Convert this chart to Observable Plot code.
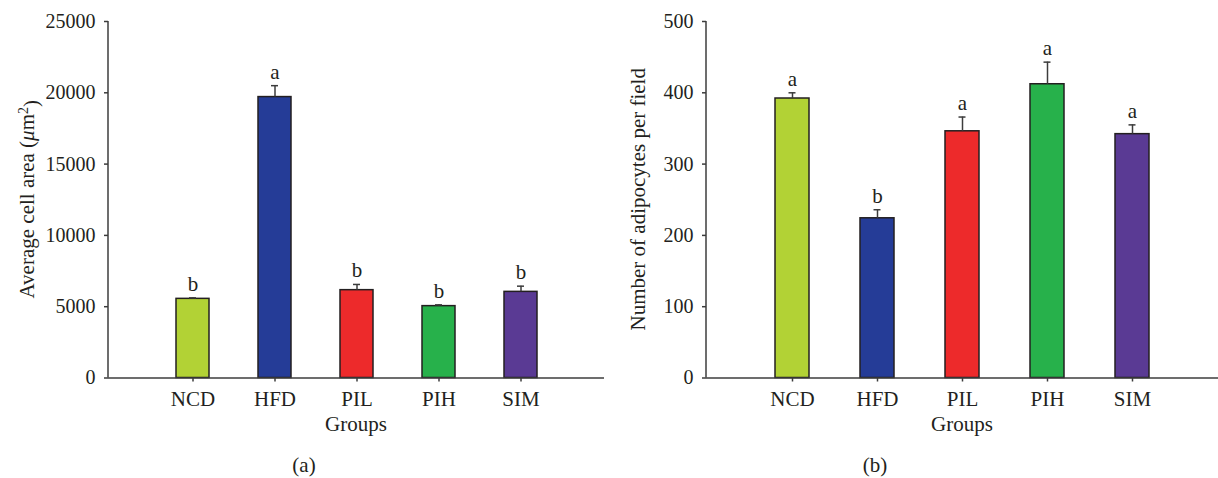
<!DOCTYPE html>
<html>
<head>
<meta charset="utf-8">
<script src="https://cdn.jsdelivr.net/npm/d3@7"></script>
<script src="https://cdn.jsdelivr.net/npm/@observablehq/plot@0.6"></script>
<style>
  body { margin: 0; background: white; }
  #wrap { position: relative; width: 1218px; height: 478px; display: flex; }
  #wrap svg { display: block; flex: none; }
</style>
</head>
<body>
<div id="wrap"></div>
<script>
const groups = ["NCD", "HFD", "PIL", "PIH", "SIM"];
const colors = ["#b2d235", "#253c97", "#ed2a2b", "#27b14b", "#5a3a94"];

const areaMean = [5550, 19700, 6160, 5040, 6040];
const areaErr = [70, 800, 400, 90, 400];
const areaLetters = ["b", "a", "b", "b", "b"];
const areaTicks = [0, 5000, 10000, 15000, 20000, 25000];

const countMean = [392, 224, 346, 412, 342];
const countErr = [8, 12, 20, 31, 13];
const countLetters = ["a", "b", "a", "a", "a"];
const countTicks = [0, 100, 200, 300, 400, 500];

const fontFamily = "'Liberation Serif', 'DejaVu Serif', serif";
const ink = "#231f20";
const lineCol = "#3c3c3c";
const H = 478, MT = 21, MB = 100.5;

function makeChart({values, errs, letters, ticks, width, marginLeft, capInset}) {
  const data = groups.map((g, i) => ({group: g, value: values[i], err: errs[i], letter: letters[i]}));
  const top = d => d.value + d.err;
  return Plot.plot({
    width, height: H,
    marginLeft, marginRight: 0, marginTop: MT, marginBottom: MB,
    style: {fontFamily, fontSize: "20px", color: ink, background: "transparent", overflow: "visible"},
    x: {domain: groups, paddingInner: 0.6, paddingOuter: 0.8, label: null},
    y: {domain: [ticks[0], ticks[ticks.length - 1]], label: null},
    color: {domain: groups, range: colors},
    marks: [
      Plot.barY(data, {x: "group", y: "value", fill: "group", stroke: ink, strokeWidth: 1.5}),
      Plot.ruleX(data, {x: "group", y1: "value", y2: top, stroke: lineCol, strokeWidth: 1.5}),
      Plot.tickY(data, {x: "group", y: top, stroke: lineCol, strokeWidth: 1.5, insetLeft: capInset, insetRight: capInset}),
      Plot.text(data, {x: "group", y: top, text: "letter", lineAnchor: "bottom", dy: -7, fontSize: 21, fill: ink}),
      Plot.axisY({ticks, tickSize: 4, tickPadding: 9, tickFormat: d3.format("d"), label: null, stroke: lineCol, strokeWidth: 1.5, fontSize: 20}),
      Plot.axisX({tickSize: 4, tickPadding: 9, label: null, stroke: lineCol, strokeWidth: 1.5, fontSize: 21}),
      Plot.ruleY([0], {stroke: lineCol, strokeWidth: 1.5})
    ]
  });
}

function decorate(chart, {marginLeft, yTitleX, titleParts, groupsX, capX, capText}) {
  const svg = d3.select(chart);
  svg.append("line")
    .attr("x1", marginLeft).attr("x2", marginLeft)
    .attr("y1", MT).attr("y2", H - MB)
    .attr("stroke", lineCol).attr("stroke-width", 1.5);
  const t = svg.append("text")
    .attr("transform", `translate(${yTitleX},${(MT + H - MB) / 2}) rotate(-90)`)
    .attr("text-anchor", "middle").attr("dy", "0.35em")
    .attr("fill", ink).attr("font-size", 21).attr("font-family", fontFamily);
  titleParts(t);
  svg.append("text").attr("x", groupsX).attr("y", 431)
    .attr("text-anchor", "middle").attr("fill", ink)
    .attr("font-size", 21).attr("font-family", fontFamily).text("Groups");
  svg.append("text").attr("x", capX).attr("y", 472)
    .attr("text-anchor", "middle").attr("fill", ink)
    .attr("font-size", 21).attr("font-family", fontFamily).text(capText);
  return chart;
}

const wrap = document.getElementById("wrap");

const leftCfg = {values: areaMean, errs: areaErr, letters: areaLetters, ticks: areaTicks, width: 604, marginLeft: 108, capInset: 13};
const left = decorate(makeChart(leftCfg), {
  marginLeft: 108, yTitleX: 27,
  titleParts: t => {
    t.append("tspan").text("Average cell area (");
    t.append("tspan").attr("font-style", "italic").text("μ");
    t.append("tspan").text("m");
    t.append("tspan").attr("dy", "-0.45em").attr("font-size", 14).text("2");
    t.append("tspan").attr("dy", "0.45em").text(")");
  },
  groupsX: 356, capX: 304, capText: "(a)"
});

const rightCfg = {values: countMean, errs: countErr, letters: countLetters, ticks: countTicks, width: 614, marginLeft: 102, capInset: 13.5};
const right = decorate(makeChart(rightCfg), {
  marginLeft: 102, yTitleX: 34,
  titleParts: t => t.text("Number of adipocytes per field"),
  groupsX: 358, capX: 271, capText: "(b)"
});

wrap.appendChild(left);
wrap.appendChild(right);
</script>
</body>
</html>
